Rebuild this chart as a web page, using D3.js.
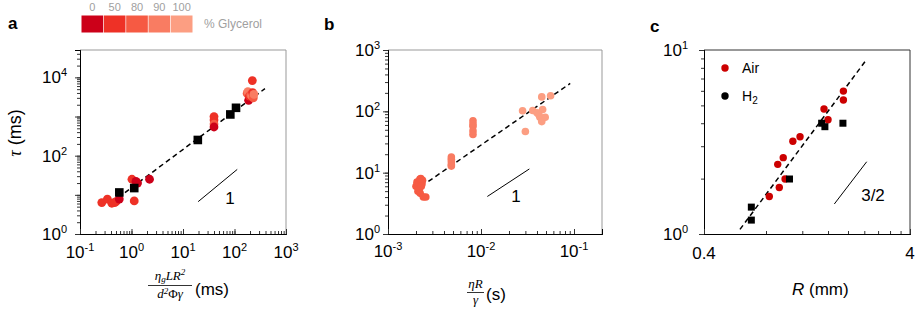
<!DOCTYPE html>
<html><head><meta charset="utf-8">
<script src="https://cdn.jsdelivr.net/npm/d3@7"></script>
<style>body{margin:0;background:#fff}svg{display:block;font-family:"Liberation Sans",Arial,sans-serif}</style>
</head><body><div id="chart"></div>
<script>
// ---------- DATA ----------
const glyLevels = [0, 50, 80, 90, 100];
const glyColors = ["#cc0019", "#ee3126", "#f65a43", "#f97c62", "#fc9e82"];

// Panel a: circles (x, y, glycerol%)
const aCircX = [0.265, 0.34, 0.415, 0.47, 0.50, 0.58, 1.02, 1.13, 1.31, 1.22, 2.24, 40, 40, 40, 40, 176, 182, 188, 195, 205, 215, 222, 225, 232, 238];
const aCircY = [6.35, 7.8, 6.1, 6.3, 6.7, 7.8, 25, 7.0, 20, 22, 25, 1000, 820, 640, 540, 3900, 4300, 2600, 3300, 3600, 3400, 8300, 4100, 3000, 3700];
const aCircG = [50, 50, 50, 50, 50, 0, 50, 50, 0, 0, 0, 50, 50, 80, 0, 80, 90, 0, 50, 80, 90, 50, 50, 80, 90];
const aSqX = [0.58, 1.13, 19.4, 83, 107];
const aSqY = [11.5, 14.9, 252, 1130, 1670];
const aFitX = [0.55, 390];
const aFitY = [8.5, 5150];
const aSlopeX = [19.7, 113];
const aSlopeY = [6.7, 44.6];
const aXTicks = [0.1, 1, 10, 100, 1000];
const aXExp = ["-1", "0", "1", "2", "3"];
const aYTicks = [1, 100, 10000];
const aYExp = ["0", "2", "4"];

// Panel b
const bCircX = [0.00200, 0.00205, 0.00210, 0.00215, 0.00220, 0.00225, 0.00218, 0.00228, 0.00232, 0.00235, 0.00222, 0.00240, 0.00255, 0.00228,
                0.0048, 0.0048, 0.0048, 0.0048, 0.0048,
                0.0082, 0.0082, 0.0082, 0.0082, 0.0082,
                0.028, 0.030, 0.036, 0.040, 0.043, 0.045, 0.046, 0.045, 0.049, 0.056, 0.042];
const bCircY = [6.0, 7.0, 5.0, 6.5, 7.8, 8.0, 5.5, 7.2, 6.6, 7.5, 4.6, 4.0, 4.0, 6.0,
                18, 16.5, 15, 13.5, 12.8,
                70, 62, 57, 48, 42,
                102, 47, 103, 95, 80, 172, 107, 68, 80, 180, 88];
const bCircG = [80, 80, 80, 80, 80, 80, 80, 80, 80, 80, 80, 80, 80, 80,
                90, 90, 90, 90, 90,
                90, 90, 90, 90, 90,
                100, 100, 100, 100, 100, 100, 100, 100, 100, 100, 100];
const bFitX = [0.00272, 0.091];
const bFitY = [7.2, 285];
const bSlopeX = [0.0117, 0.0331];
const bSlopeY = [4.09, 11.5];
const bXTicks = [0.001, 0.01, 0.1];
const bXExp = ["-3", "-2", "-1"];
const bYTicks = [1, 10, 100, 1000];
const bYExp = ["0", "1", "2", "3"];

// Panel c
const cAirX = [0.83, 0.912, 0.928, 0.97, 0.99, 1.08, 1.17, 1.53, 1.60, 1.90, 1.90];
const cAirY = [1.6, 2.39, 1.79, 2.60, 1.99, 3.19, 3.38, 4.78, 4.18, 5.98, 5.35];
const cH2X = [0.679, 0.679, 1.04, 1.49, 1.545, 1.89];
const cH2Y = [1.40, 1.19, 1.99, 4.0, 3.83, 4.0];
const cFitX = [0.598, 2.43];
const cFitY = [1.06, 8.7];
const cSlopeX = [1.717, 2.465];
const cSlopeY = [1.456, 2.47];
const cXTicks = [0.4, 0.8, 1.2, 1.6, 2.0, 2.4, 2.8, 3.2, 3.6, 4.0];
const cXLabels = [[0.4, "0.4"], [4, "4"]];
const cYTicks = [1, 10];
const cYExp = ["0", "1"];

// ---------- DRAW ----------
const W = 917, H = 311;
const svg = d3.select("#chart").append("svg").attr("width", W).attr("height", H);
const colorOf = g => glyColors[glyLevels.indexOf(g)];
const serif = "Liberation Serif, DejaVu Serif, serif";

function powLabel(g, x, y, exp, anchor) {
  const t = g.append("text").attr("x", x).attr("y", y).attr("text-anchor", anchor)
    .attr("font-size", 17).attr("fill", "#000");
  t.append("tspan").text("10");
  t.append("tspan").attr("dy", -7).attr("font-size", 11).text(exp);
}

function frame(x, y, boxColor) {
  const [x0, x1] = x.range(), [y0, y1] = y.range();
  svg.append("path").attr("d", `M${x0},${y1}H${x1}V${y0}`).attr("fill", "none")
    .attr("stroke", boxColor).attr("stroke-width", 1);
}

function logAxes(x, y, xMajor, yMajor, xMinorVals) {
  const [x0, x1] = x.range(), [y0, y1] = y.range();
  const yMinor = y.ticks();
  const gy = svg.append("g").attr("transform", `translate(${x0},0)`)
    .call(d3.axisLeft(y).tickValues(yMinor).tickSize(3).tickFormat(""));
  gy.append("g").call(d3.axisLeft(y).tickValues(yMajor).tickSize(5).tickFormat(""));
  gy.selectAll("path.domain").attr("stroke", "#000");
  gy.selectAll("line").attr("stroke", "#333");
  const xMinor = xMinorVals || x.ticks();
  const gx = svg.append("g").attr("transform", `translate(0,${y0})`)
    .call(d3.axisBottom(x).tickValues(xMinor).tickSize(-3).tickFormat(""));
  gx.append("g").call(d3.axisBottom(x).tickValues(xMajor).tickSize(-5).tickFormat(""));
  gx.selectAll("path.domain").attr("stroke", "#000");
  gx.selectAll("line").attr("stroke", "#333");
}

function fitLine(x, y, xs, ys) {
  svg.append("path").datum(xs.map((v, i) => [v, ys[i]]))
    .attr("d", d3.line().x(d => x(d[0])).y(d => y(d[1])))
    .attr("fill", "none").attr("stroke", "#000").attr("stroke-width", 1.5).attr("stroke-dasharray", "5,3.5");
}
function slopeLine(x, y, xs, ys) {
  svg.append("path").datum(xs.map((v, i) => [v, ys[i]]))
    .attr("d", d3.line().x(d => x(d[0])).y(d => y(d[1])))
    .attr("fill", "none").attr("stroke", "#000").attr("stroke-width", 1);
}

// ---- Legend (top) ----
const legX = d3.scaleBand().domain(glyLevels).range([81.5, 192.5]).paddingInner(0.03);
glyLevels.forEach((g, i) => {
  svg.append("rect").attr("x", legX(g)).attr("y", 15.5).attr("width", legX.bandwidth()).attr("height", 17)
    .attr("fill", glyColors[i]);
  svg.append("text").attr("x", legX(g) + legX.bandwidth() / 2).attr("y", 11).attr("text-anchor", "middle")
    .attr("font-size", 11).attr("fill", "#a0a0a0").text(g);
});
svg.append("text").attr("x", 204).attr("y", 28).attr("font-size", 12).attr("fill", "#a0a0a0").text("% Glycerol");

// ---- Panel a ----
{
  const x = d3.scaleLog().domain([0.1, 1000]).range([80, 286]);
  const y = d3.scaleLog().domain([1, 50000]).range([234, 50]);
  frame(x, y, "#999");
  logAxes(x, y, aXTicks, [1, 10, 100, 1000, 10000]);
  aXTicks.forEach((t, i) => powLabel(svg, x(t), 258, aXExp[i], "middle"));
  aYTicks.forEach((t, i) => powLabel(svg, 67, y(t) + 6, aYExp[i], "end"));
  fitLine(x, y, aFitX, aFitY);
  slopeLine(x, y, aSlopeX, aSlopeY);
  svg.append("text").attr("x", 230).attr("y", 204).attr("text-anchor", "middle").attr("font-size", 17).text("1");
  svg.append("g").selectAll("circle").data(aCircX.map((v, i) => ({x: v, y: aCircY[i], g: aCircG[i]})))
    .join("circle").attr("cx", d => x(d.x)).attr("cy", d => y(d.y)).attr("r", 4.4).attr("fill", d => colorOf(d.g));
  svg.append("g").selectAll("rect").data(aSqX.map((v, i) => [v, aSqY[i]]))
    .join("rect").attr("x", d => x(d[0]) - 4.3).attr("y", d => y(d[1]) - 4.3).attr("width", 8.6).attr("height", 8.6).attr("fill", "#000");
  svg.append("text").attr("x", 8).attr("y", 29).attr("font-size", 17).attr("font-weight", "bold").text("a");
  const yl = svg.append("text").attr("transform", "translate(21,133) rotate(-90)").attr("text-anchor", "middle").attr("font-size", 18);
  yl.append("tspan").attr("font-style", "italic").attr("font-family", serif).text("τ");
  yl.append("tspan").text(" (ms)");
  // fraction label
  const num = svg.append("text").attr("x", 170).attr("y", 280).attr("text-anchor", "middle").attr("font-size", 13)
    .attr("font-style", "italic").attr("font-family", serif);
  num.append("tspan").text("η");
  num.append("tspan").attr("dy", 2).attr("font-size", 9).text("g");
  num.append("tspan").attr("dy", -2).text("LR");
  num.append("tspan").attr("dy", -5).attr("font-size", 9).text("2");
  svg.append("line").attr("x1", 148).attr("x2", 192).attr("y1", 285.5).attr("y2", 285.5).attr("stroke", "#000").attr("stroke-width", 0.8);
  const den = svg.append("text").attr("x", 170).attr("y", 298).attr("text-anchor", "middle").attr("font-size", 13)
    .attr("font-style", "italic").attr("font-family", serif);
  den.append("tspan").text("d");
  den.append("tspan").attr("dy", -4).attr("font-size", 9).text("2");
  den.append("tspan").attr("dy", 4).attr("font-style", "normal").text("Φ");
  den.append("tspan").text("γ");
  svg.append("text").attr("x", 195).attr("y", 294.5).attr("font-size", 17).text("(ms)");
}

// ---- Panel b ----
{
  const x = d3.scaleLog().domain([0.001, 0.2]).range([388, 602]);
  const y = d3.scaleLog().domain([1, 1000]).range([234, 50]);
  frame(x, y, "#999");
  logAxes(x, y, bXTicks, bYTicks);
  bXTicks.forEach((t, i) => powLabel(svg, x(t), 257, bXExp[i], "middle"));
  bYTicks.forEach((t, i) => powLabel(svg, 380, y(t) + 6, bYExp[i], "end"));
  fitLine(x, y, bFitX, bFitY);
  slopeLine(x, y, bSlopeX, bSlopeY);
  svg.append("text").attr("x", 516).attr("y", 202).attr("text-anchor", "middle").attr("font-size", 17).text("1");
  svg.append("g").selectAll("circle").data(bCircX.map((v, i) => ({x: v, y: bCircY[i], g: bCircG[i]})))
    .join("circle").attr("cx", d => x(d.x)).attr("cy", d => y(d.y)).attr("r", 3.8).attr("fill", d => colorOf(d.g));
  svg.append("text").attr("x", 324).attr("y", 30).attr("font-size", 17).attr("font-weight", "bold").text("b");
  svg.append("text").attr("x", 475.5).attr("y", 287.5).attr("text-anchor", "middle").attr("font-size", 13)
    .attr("font-style", "italic").attr("font-family", serif).text("ηR");
  svg.append("line").attr("x1", 467).attr("x2", 484).attr("y1", 292.5).attr("y2", 292.5).attr("stroke", "#000").attr("stroke-width", 0.8);
  svg.append("text").attr("x", 475.5).attr("y", 304).attr("text-anchor", "middle").attr("font-size", 13)
    .attr("font-style", "italic").attr("font-family", serif).text("γ");
  svg.append("text").attr("x", 486).attr("y", 299.5).attr("font-size", 17).text("(s)");
}

// ---- Panel c ----
{
  const x = d3.scaleLog().domain([0.4, 4]).range([704, 910]);
  const y = d3.scaleLog().domain([1, 10]).range([234, 50]);
  frame(x, y, "#333");
  logAxes(x, y, [0.4, 4], cYTicks, cXTicks);
  cXLabels.forEach(([v, s]) => svg.append("text").attr("x", x(v)).attr("y", 259).attr("text-anchor", "middle")
    .attr("font-size", 17).text(s));
  cYTicks.forEach((t, i) => powLabel(svg, 688, y(t) + 6, cYExp[i], "end"));
  fitLine(x, y, cFitX, cFitY);
  slopeLine(x, y, cSlopeX, cSlopeY);
  svg.append("text").attr("x", 873).attr("y", 201).attr("text-anchor", "middle").attr("font-size", 17).text("3/2");
  svg.append("g").selectAll("circle").data(cAirX.map((v, i) => [v, cAirY[i]]))
    .join("circle").attr("cx", d => x(d[0])).attr("cy", d => y(d[1])).attr("r", 3.7).attr("fill", "#cc0000");
  svg.append("g").selectAll("rect").data(cH2X.map((v, i) => [v, cH2Y[i]]))
    .join("rect").attr("x", d => x(d[0]) - 3.5).attr("y", d => y(d[1]) - 3.5).attr("width", 7).attr("height", 7).attr("fill", "#000");
  svg.append("text").attr("x", 650).attr("y", 32).attr("font-size", 17).attr("font-weight", "bold").text("c");
  svg.append("circle").attr("cx", 725).attr("cy", 68).attr("r", 3.7).attr("fill", "#cc0000");
  svg.append("text").attr("x", 742).attr("y", 73).attr("font-size", 14).text("Air");
  svg.append("circle").attr("cx", 725).attr("cy", 96).attr("r", 3.7).attr("fill", "#000");
  const h2 = svg.append("text").attr("x", 742).attr("y", 101).attr("font-size", 14);
  h2.append("tspan").text("H");
  h2.append("tspan").attr("dy", 3).attr("font-size", 10).text("2");
  const xl = svg.append("text").attr("x", 792).attr("y", 294.5).attr("font-size", 17);
  xl.append("tspan").attr("font-style", "italic").text("R");
  xl.append("tspan").text("  (mm)");
}
</script></body></html>
